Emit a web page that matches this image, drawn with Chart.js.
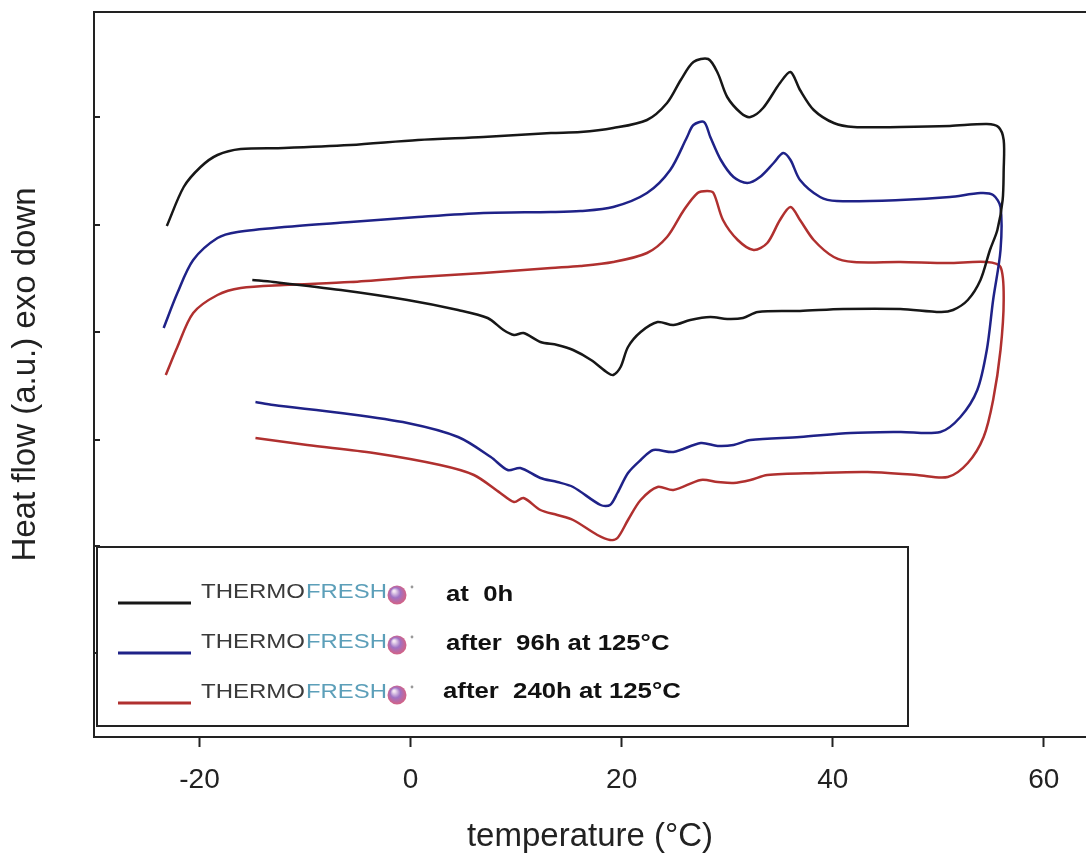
<!DOCTYPE html>
<html>
<head>
<meta charset="utf-8">
<script src="https://cdn.jsdelivr.net/npm/chart.js@4.4.0/dist/chart.umd.min.js"></script>
<style>
html, body { margin: 0; padding: 0; background: #fff; }
#wrap { width: 1086px; height: 854px; position: relative; }
</style>
</head>
<body>
<div id="wrap"><canvas id="dscChart"></canvas></div>
<script>
// DSC loops: heating from -23 °C up to 56 °C, then cooling back to -15 °C
var blackTemp = [-23.1, -21.5, -19.9, -18.3, -16.1, -12.0, -5.7, 0.7, 6.9, 13.3, 16.1, 19.2, 22.4, 24.3, 25.6, 26.8, 28.2, 29.1, 30.0, 31.3, 32.2, 33.4, 35.0, 36.0, 36.9, 38.2, 40.1, 42.0, 46.4, 51.1, 54.6, 55.7, 56.2, 56.2, 56.1,
    55.6, 54.9, 54.0, 52.8, 51.4, 50.2, 46.4, 41.0, 36.9, 32.9, 31.5, 30.0, 28.4, 26.5, 24.9, 23.4, 21.8, 20.6, 19.9, 19.2, 18.7, 17.1, 15.4, 13.9, 12.3, 10.7, 9.8, 8.8, 7.3, 4.5, -0.3, -6.6, -13.0, -15.0];
var blackFlow = [51.1, 55.0, 57.0, 58.2, 58.8, 58.9, 59.2, 59.7, 60.0, 60.4, 60.5, 60.9, 61.7, 63.4, 65.7, 67.5, 67.8, 66.4, 64.0, 62.4, 62.0, 62.9, 65.4, 66.5, 64.7, 62.7, 61.4, 61.0, 61.0, 61.1, 61.3, 61.0, 59.7, 56.7, 53.7,
    50.7, 48.7, 45.7, 43.7, 42.7, 42.5, 42.8, 42.8, 42.6, 42.5, 41.9, 41.8, 42.0, 41.7, 41.2, 41.5, 40.5, 39.0, 37.0, 36.2, 36.4, 37.7, 38.7, 39.2, 39.5, 40.4, 40.2, 40.7, 41.9, 42.7, 43.7, 44.7, 45.5, 45.7];

var blueTemp = [-23.4, -22.1, -20.6, -18.3, -16.4, -12.0, -5.7, 0.7, 6.9, 13.3, 16.1, 19.2, 22.4, 24.6, 26.2, 26.8, 27.8, 28.4, 29.4, 30.6, 31.9, 33.1, 34.4, 35.3, 36.0, 36.9, 38.8, 40.4, 46.4, 51.1, 54.0, 55.2, 55.9, 55.9,
    55.2, 54.6, 53.7, 52.1, 50.2, 46.4, 41.7, 36.9, 32.2, 30.6, 29.1, 27.5, 24.9, 23.0, 21.8, 20.6, 19.6, 18.9, 18.0, 15.4, 13.9, 12.3, 10.4, 9.2, 7.6, 4.5, -0.3, -6.6, -13.0, -14.7];
var blueFlow = [40.9, 44.4, 47.7, 49.9, 50.5, 51.0, 51.5, 52.0, 52.4, 52.5, 52.6, 53.0, 54.4, 56.7, 60.0, 61.2, 61.5, 60.0, 57.7, 56.0, 55.4, 56.0, 57.4, 58.4, 57.7, 55.7, 54.0, 53.6, 53.7, 54.0, 54.4, 54.2, 53.0, 48.7,
    43.7, 38.7, 34.7, 32.0, 30.5, 30.5, 30.4, 30.0, 29.7, 29.2, 29.1, 29.4, 28.5, 28.7, 27.7, 26.4, 24.4, 23.2, 23.2, 25.0, 25.5, 25.9, 26.9, 26.7, 28.0, 30.0, 31.4, 32.4, 33.2, 33.5];

var redTemp = [-23.2, -22.1, -20.6, -18.3, -16.1, -12.0, -5.7, 0.7, 6.9, 13.3, 16.1, 19.2, 22.4, 24.3, 25.9, 27.2, 28.1, 28.7, 29.6, 31.0, 32.5, 33.8, 35.0, 36.0, 36.9, 38.2, 40.1, 42.0, 46.4, 50.9, 54.6, 55.9, 56.2,
    55.9, 55.2, 54.3, 52.8, 50.9, 48.0, 43.3, 38.5, 33.8, 32.2, 30.6, 29.1, 27.5, 24.9, 23.4, 21.8, 20.6, 19.6, 18.9, 17.7, 15.4, 13.9, 12.3, 10.7, 9.8, 8.5, 6.0, 2.8, -3.5, -9.8, -14.7];
var redFlow = [36.2, 39.0, 42.4, 44.2, 44.9, 45.2, 45.5, 46.0, 46.4, 46.9, 47.1, 47.5, 48.4, 50.0, 52.7, 54.4, 54.6, 54.4, 51.7, 49.7, 48.7, 49.4, 51.7, 53.0, 51.7, 49.7, 48.0, 47.5, 47.5, 47.4, 47.5, 47.0, 43.7,
    38.7, 33.7, 30.0, 27.4, 26.0, 26.2, 26.5, 26.4, 26.2, 25.7, 25.4, 25.5, 25.7, 24.7, 25.0, 23.7, 21.7, 19.9, 19.7, 20.2, 21.7, 22.2, 22.7, 23.9, 23.5, 24.4, 26.2, 27.2, 28.4, 29.2, 29.9];

var xTickValues = [-20, 0, 20, 40, 60];
var yTickValues = [8.4, 19.1, 29.7, 40.5, 51.2, 62.0];   // unlabelled ticks on the left axis
var brandFirst = 'THERMO';
var brandSecond = 'FRESH';
var sampleLabels = ['at  0h', 'after  96h at 125°C', 'after  240h at 125°C'];


function toPoints(temps, flows) {
    var pts = [];
    for (var i = 0; i < temps.length; i++) {
        pts.push({ x: temps[i], y: flows[i] });
    }
    return pts;
}

// draws a text squeezed/stretched to a given width
function drawFitted(ctx, text, x, y, width) {
    var w = ctx.measureText(text).width;
    ctx.save();
    ctx.translate(x, y);
    ctx.scale(width / w, 1);
    ctx.fillText(text, 0, 0);
    ctx.restore();
}

var frameTicks = {
    id: 'frameTicks',
    beforeDatasetsDraw: function(chart) {
        var ctx = chart.ctx;
        var area = chart.chartArea;
        var yScale = chart.scales.y;
        ctx.save();
        ctx.strokeStyle = '#222';
        ctx.lineWidth = 2;
        ctx.beginPath();
        ctx.moveTo(area.left - 1, area.top);
        ctx.lineTo(area.right, area.top);
        ctx.stroke();
        // small inward ticks on the heat flow axis
        yTickValues.forEach(function(v) {
            var py = Math.round(yScale.getPixelForValue(v));
            ctx.beginPath();
            ctx.moveTo(area.left, py);
            ctx.lineTo(area.left + 6, py);
            ctx.stroke();
        });
        ctx.restore();
    }
};

var boxLegend = {
    id: 'boxLegend',
    afterDatasetsDraw: function(chart) {
        var ctx = chart.ctx;
        ctx.save();
        ctx.fillStyle = '#fff';
        ctx.fillRect(97, 547, 811, 179);
        ctx.strokeStyle = '#222';
        ctx.lineWidth = 2;
        ctx.strokeRect(97, 547, 811, 179);

        chart.data.datasets.forEach(function(ds, i) {
            var rowY = i * 50;
            ctx.strokeStyle = ds.borderColor;
            ctx.lineWidth = 3;
            ctx.beginPath();
            ctx.moveTo(118, 603 + rowY);
            ctx.lineTo(191, 603 + rowY);
            ctx.stroke();

            ctx.font = '20px "Liberation Sans", Arial, sans-serif';
            ctx.textBaseline = 'alphabetic';
            ctx.fillStyle = '#3a3a3a';
            drawFitted(ctx, brandFirst, 201, 598 + rowY, 104);
            ctx.fillStyle = '#5c9fb9';
            drawFitted(ctx, brandSecond, 306, 598 + rowY, 81);

            // little globe of the logo
            var cx = 397, cy = 595 + rowY;
            var g = ctx.createRadialGradient(cx - 3, cy - 4, 1, cx, cy, 10);
            g.addColorStop(0, '#f3e6f2');
            g.addColorStop(0.45, '#9f72c4');
            g.addColorStop(1, '#d8607f');
            ctx.fillStyle = g;
            ctx.beginPath();
            ctx.arc(cx, cy, 9.5, 0, Math.PI * 2);
            ctx.fill();
            ctx.fillStyle = '#999';
            ctx.beginPath();
            ctx.arc(412, 587 + rowY, 1.4, 0, Math.PI * 2);
            ctx.fill();

            ctx.fillStyle = '#111';
            ctx.font = 'bold 22px "Liberation Sans", Arial, sans-serif';
            var tx = i === 2 ? 443 : 446;
            ctx.save();
            ctx.translate(tx, 601 + i * 48.5);
            ctx.scale(1.17, 1);
            ctx.fillText(sampleLabels[i], 0, 0);
            ctx.restore();
        });
        ctx.restore();
    }
};

function createDscChart() {
    var canvas = document.getElementById('dscChart');
    new Chart(canvas, {
        type: 'scatter',
        data: {
            datasets: [{
                label: sampleLabels[0],
                data: toPoints(blackTemp, blackFlow),
                borderColor: '#171717'
            }, {
                label: sampleLabels[1],
                data: toPoints(blueTemp, blueFlow),
                borderColor: '#1f2288'
            }, {
                label: sampleLabels[2],
                data: toPoints(redTemp, redFlow),
                borderColor: '#b0302f'
            }]
        },
        options: {
            responsive: true,
            maintainAspectRatio: false,
            animation: false,
            showLine: true,
            elements: {
                point: { radius: 0, hoverRadius: 0 },
                line: { borderWidth: 2.5, tension: 0.3, fill: false }
            },
            layout: { padding: { left: 0, right: 0, top: 12, bottom: 0 } },
            plugins: {
                legend: { display: false },
                tooltip: { enabled: false }
            },
            scales: {
                x: {
                    type: 'linear',
                    min: -30,
                    max: 64,
                    afterBuildTicks: function(scale) {
                        scale.ticks = xTickValues.map(function(v) { return { value: v }; });
                    },
                    afterFit: function(scale) { scale.height = 117; },
                    ticks: {
                        color: '#222',
                        padding: 16,
                        font: { family: '"Liberation Sans", Arial, sans-serif', size: 28 }
                    },
                    grid: { drawOnChartArea: false, drawTicks: true, tickLength: 10, tickWidth: 2, tickColor: '#222' },
                    border: { display: true, color: '#222', width: 2 },
                    title: {
                        display: true,
                        text: 'temperature (°C)',
                        color: '#222',
                        padding: { top: 0, bottom: 1 },
                        font: { family: '"Liberation Sans", Arial, sans-serif', size: 33, lineHeight: 1 }
                    }
                },
                y: {
                    type: 'linear',
                    min: 0,
                    max: 72.5,
                    afterFit: function(scale) { scale.width = 94; },
                    ticks: { display: false },
                    grid: { drawOnChartArea: false, drawTicks: false },
                    border: { display: true, color: '#222', width: 2 },
                    title: {
                        display: true,
                        text: 'Heat flow (a.u.) exo down',
                        color: '#222',
                        padding: { top: 9, bottom: 0 },
                        font: { family: '"Liberation Sans", Arial, sans-serif', size: 33, lineHeight: 1 }
                    }
                }
            }
        },
        plugins: [frameTicks, boxLegend]
    });
}

window.onload = function() {
    createDscChart();
};
</script>
</body>
</html>
